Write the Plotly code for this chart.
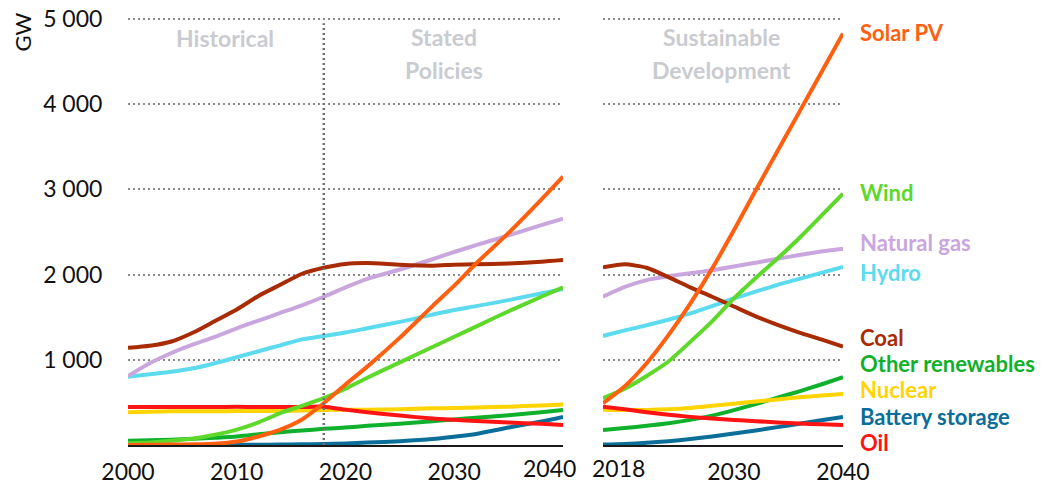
import plotly.graph_objects as go

# ── data (GW) ───────────────────────────────────────────────────────────────
years_sp = [2000, 2002, 2004, 2006, 2008, 2010, 2012, 2014, 2016, 2018,
            2020, 2022, 2025, 2028, 2030, 2032, 2035, 2038, 2040]
years_sd = [2018, 2020, 2022, 2024, 2026, 2028, 2030, 2032, 2034, 2036, 2038, 2040]

# Historical + Stated Policies
solar_sp   = [0, 2, 5, 8, 15, 40, 100, 180, 300, 490, 710, 920, 1260, 1630, 1870, 2130, 2490, 2880, 3150]
wind_sp    = [20, 30, 50, 75, 120, 180, 265, 375, 460, 550, 660, 790, 970, 1150, 1270, 1390, 1570, 1740, 1850]
gas_sp     = [810, 960, 1080, 1180, 1270, 1370, 1460, 1550, 1640, 1740, 1850, 1950, 2060, 2180, 2265, 2345, 2460, 2580, 2655]
hydro_sp   = [800, 830, 860, 900, 960, 1030, 1100, 1170, 1240, 1280, 1320, 1370, 1445, 1530, 1585, 1630, 1700, 1780, 1830]
coal_sp    = [1140, 1165, 1215, 1320, 1455, 1590, 1750, 1880, 2010, 2080, 2125, 2135, 2115, 2105, 2115, 2120, 2130, 2150, 2170]
other_sp   = [50, 55, 62, 72, 85, 100, 125, 150, 170, 190, 205, 225, 250, 280, 300, 320, 350, 385, 410]
nuclear_sp = [385, 390, 395, 395, 395, 400, 400, 400, 405, 410, 415, 415, 420, 430, 435, 440, 450, 465, 475]
battery_sp = [None, None, None, None, 0, 2, 3, 5, 8, 12, 18, 28, 45, 70, 98, 130, 205, 275, 330]
oil_sp     = [445, 445, 445, 445, 445, 448, 445, 445, 445, 450, 415, 385, 345, 310, 295, 282, 265, 248, 235]

# Sustainable Development
solar_sd   = [490, 690, 960, 1290, 1660, 2070, 2520, 2990, 3450, 3910, 4370, 4830]
wind_sd    = [550, 660, 810, 980, 1210, 1450, 1720, 1960, 2190, 2430, 2690, 2950]
gas_sd     = [1740, 1855, 1935, 1980, 2015, 2050, 2095, 2140, 2185, 2230, 2270, 2305]
hydro_sd   = [1280, 1345, 1405, 1470, 1545, 1630, 1720, 1800, 1880, 1950, 2020, 2090]
coal_sd    = [2085, 2120, 2080, 1970, 1850, 1740, 1625, 1510, 1410, 1320, 1240, 1155]
other_sd   = [175, 200, 225, 255, 295, 345, 410, 480, 555, 630, 710, 795]
nuclear_sd = [415, 410, 412, 420, 435, 460, 485, 510, 535, 560, 580, 600]
battery_sd = [5, 12, 25, 45, 70, 100, 135, 170, 210, 250, 290, 330]
oil_sd     = [450, 420, 385, 355, 330, 310, 293, 280, 265, 252, 243, 235]

y_ticks = [1000, 2000, 3000, 4000, 5000]
y_tick_text = ["1 000", "2 000", "3 000", "4 000", "5 000"]
x_ticks_sp = [2000, 2010, 2020, 2030]   # 2040 label is nudged left, see below
x_ticks_sd = [2030, 2040]               # 2018 label is nudged right, see below

# (name, colour, SP series, SD series, label y-position in GW)
SERIES = [
    ("Battery storage", "#0B6E99", battery_sp, battery_sd, 340),
    ("Other renewables", "#0FB02B", other_sp, other_sd, 951),
    ("Nuclear", "#FFD400", nuclear_sp, nuclear_sd, 646),
    ("Oil", "#FF1414", oil_sp, oil_sd, 35),
    ("Hydro", "#5CDBEE", hydro_sp, hydro_sd, 2019),
    ("Natural gas", "#C9A6DE", gas_sp, gas_sd, 2371),
    ("Coal", "#A82B03", coal_sp, coal_sd, 1256),
    ("Wind", "#5ED82A", wind_sp, wind_sd, 2958),
    ("Solar PV", "#FF5F0F", solar_sp, solar_sd, 4836),
]

FONT = "Lato, 'Liberation Sans', sans-serif"
GREY_TXT = "#C9CBD0"
TICK_FONT = dict(size=23, color="#111111", family=FONT)

fig = go.Figure()

for name, colour, sp, sd, _ in SERIES:
    fig.add_trace(go.Scatter(
        x=years_sp, y=sp, mode="lines", name=name,
        line=dict(color=colour, width=4, shape="spline", smoothing=0.6),
        xaxis="x", yaxis="y", showlegend=False, cliponaxis=False,
    ))
    fig.add_trace(go.Scatter(
        x=years_sd, y=sd, mode="lines", name=name,
        line=dict(color=colour, width=4, shape="spline", smoothing=0.6),
        xaxis="x2", yaxis="y2", showlegend=False, cliponaxis=False,
    ))

# some headroom so plotly keeps the 5 000 gridline (it drops lines at the edge)
grid = dict(
    range=[0, 5035], tickvals=y_ticks, ticktext=y_tick_text, automargin=False,
    showgrid=True, gridcolor="#8A8A8A", gridwidth=1.5, griddash="2px,3px",
    zeroline=False, showline=False, ticklabeloverflow="allow",
)
xbase = dict(
    showgrid=False, zeroline=False, showline=True, linecolor="#1A1A1A", linewidth=2,
    ticks="outside", ticklen=5, tickcolor="rgba(0,0,0,0)", automargin=False,
    tickfont=TICK_FONT, ticklabeloverflow="allow",
)

# page body has an 8px margin, so the figure is 8px smaller and shifted
fig.update_layout(
    width=1050, height=476,
    margin=dict(l=120, r=215, t=8, b=39),
    paper_bgcolor="white", plot_bgcolor="white",
    font=dict(family=FONT, color="#111111"),
    xaxis=dict(**xbase, domain=[0, 0.6084], range=[2000, 2040],
               tickvals=x_ticks_sp, anchor="y"),
    xaxis2=dict(**xbase, domain=[0.6643, 1], range=[2018, 2040],
                tickvals=x_ticks_sd, anchor="y2"),
    yaxis=dict(**grid, anchor="x", ticks="outside", ticklen=20,
               tickcolor="rgba(0,0,0,0)", tickfont=TICK_FONT),
    yaxis2=dict(**grid, anchor="x2", matches="y", showticklabels=False),
)

# end-of-axis year labels, nudged apart as in the original
fig.add_annotation(text="2040", xref="x", yref="paper", x=2040, y=0, yanchor="middle",
                   xshift=-14, yshift=-23, showarrow=False, font=TICK_FONT)
fig.add_annotation(text="2018", xref="x2", yref="paper", x=2018, y=0, yanchor="middle",
                   xshift=16, yshift=-23, showarrow=False, font=TICK_FONT)

# 2018 divider between historical and projections
fig.add_shape(type="line", xref="x", yref="y", x0=2018, x1=2018, y0=0, y1=4950,
              line=dict(color="#707070", width=2.5, dash="2px,3px"), layer="above")

# section headings
for txt, xr, x, y in [("Historical", "x", 2008.9, 4777),
                      ("Stated", "x", 2029.1, 4790), ("Policies", "x", 2029.1, 4400),
                      ("Sustainable", "x2", 2028.9, 4790), ("Development", "x2", 2028.9, 4400)]:
    fig.add_annotation(text=f"<b>{txt}</b>", xref=xr, yref="y" if xr == "x" else "y2",
                       x=x, y=y, showarrow=False,
                       font=dict(size=23, color=GREY_TXT, family=FONT))

# series labels on the right
for name, colour, _, _, ly in SERIES:
    fig.add_annotation(text=f"<b>{name}</b>", xref="x2", yref="y2", x=2040, y=ly,
                       xanchor="left", xshift=16, showarrow=False, borderpad=0,
                       font=dict(size=22, color=colour, family=FONT))

fig.add_annotation(text="GW", xref="paper", yref="paper", x=-0.148, y=0.962,
                   xanchor="center", yanchor="middle",
                   textangle=-90, showarrow=False,
                   font=dict(size=22, color="#111111", family=FONT))

fig.write_html("out.html")
